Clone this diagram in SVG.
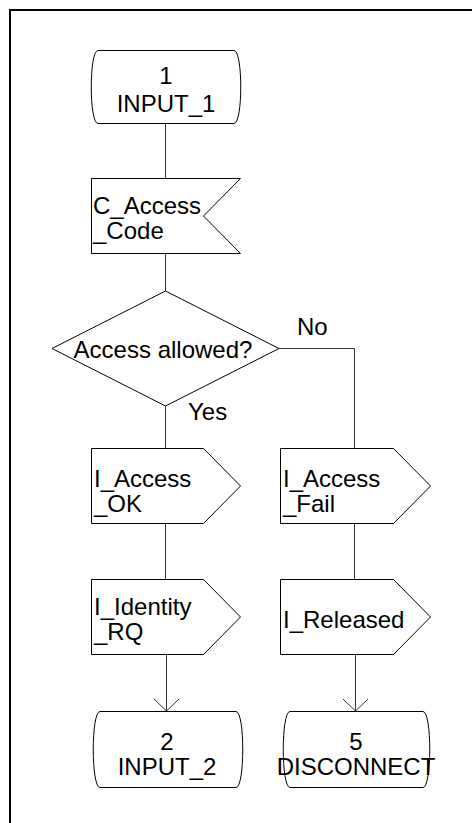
<svg xmlns="http://www.w3.org/2000/svg" width="472" height="823" viewBox="0 0 472 823">
  <style>
    .shape { fill: #ffffff; stroke: #000000; stroke-width: 1; }
    .conn { fill: none; stroke: #333333; stroke-width: 1; }
    .lbl { font-family: "Liberation Sans", Arial, sans-serif; font-size: 24px; fill: #000000; }
    .mid { text-anchor: middle; }
  </style>
  <defs>
    <!-- open V arrowhead, drawn pointing along +x so orient="auto" turns it with the line -->
    <marker id="openArrow" markerWidth="16" markerHeight="28" refX="13" refY="14" orient="auto" markerUnits="userSpaceOnUse" viewBox="0 0 16 28">
      <path d="M1,1.5 L13,14 L1,26.5" fill="none" stroke="#333333" stroke-width="1"/>
    </marker>
  </defs>

  <rect width="472" height="823" fill="#ffffff"/>
  <!-- page frame (top and left edges only are inside the page) -->
  <path d="M10,830 V10 H480" fill="none" stroke="#000000" stroke-width="2"/>

  <!-- connectors -->
  <g id="connectors">
    <path class="conn" d="M165.5,124 V178"/>
    <path class="conn" d="M165.5,254 V291"/>
    <path class="conn" d="M165.5,406 V448"/>
    <path class="conn" d="M279,348.5 H354.5 V448"/>
    <path class="conn" d="M165.5,524 V579"/>
    <path class="conn" d="M354.5,524 V579"/>
    <path class="conn" d="M166.5,655 V711" marker-end="url(#openArrow)"/>
    <path class="conn" d="M355.5,655 V711" marker-end="url(#openArrow)"/>
  </g>

  <!-- state 1 -->
  <g id="state_input_1">
    <path class="shape" d="M98,50.5 H234 C243,50.5 243,123.5 234,123.5 H98 C89,123.5 89,50.5 98,50.5 Z"/>
    <text class="lbl mid" x="166" y="84">1</text>
    <text class="lbl mid" x="166" y="112">INPUT_1</text>
  </g>

  <!-- input signal C_Access_Code -->
  <g id="input_c_access_code">
    <path class="shape" d="M91.5,178.5 H240.5 L203.5,216 L240.5,253.5 H91.5 Z"/>
    <text class="lbl" x="93" y="214">C_Access</text>
    <text class="lbl" x="93" y="239">_Code</text>
  </g>

  <!-- decision -->
  <g id="decision_access_allowed">
    <path class="shape" d="M165.5,291 L279,348.5 L165.5,406 L52,348.5 Z"/>
    <text class="lbl mid" x="163" y="358">Access allowed?</text>
    <text class="lbl" x="297" y="335">No</text>
    <text class="lbl" x="188" y="420">Yes</text>
  </g>

  <!-- output I_Access_OK -->
  <g id="output_i_access_ok">
    <path class="shape" d="M91.5,448.5 H203.5 L240.5,486 L203.5,523.5 H91.5 Z"/>
    <text class="lbl" x="94" y="487">I_Access</text>
    <text class="lbl" x="94" y="512">_OK</text>
  </g>

  <!-- output I_Access_Fail -->
  <g id="output_i_access_fail">
    <path class="shape" d="M280.5,448.5 H393.5 L430.5,486 L393.5,523.5 H280.5 Z"/>
    <text class="lbl" x="283" y="487">I_Access</text>
    <text class="lbl" x="283" y="512">_Fail</text>
  </g>

  <!-- output I_Identity_RQ -->
  <g id="output_i_identity_rq">
    <path class="shape" d="M91.5,579.5 H203.5 L240.5,617 L203.5,654.5 H91.5 Z"/>
    <text class="lbl" x="94" y="615">I_Identity</text>
    <text class="lbl" x="94" y="640">_RQ</text>
  </g>

  <!-- output I_Released -->
  <g id="output_i_released">
    <path class="shape" d="M280.5,579.5 H393.5 L430.5,617 L393.5,654.5 H280.5 Z"/>
    <text class="lbl" x="283" y="628">I_Released</text>
  </g>

  <!-- state 2 -->
  <g id="state_input_2">
    <path class="shape" d="M100,711.5 H236 C245,711.5 245,787.5 236,787.5 H100 C91,787.5 91,711.5 100,711.5 Z"/>
    <text class="lbl mid" x="167" y="750">2</text>
    <text class="lbl mid" x="167" y="775">INPUT_2</text>
  </g>

  <!-- state 5 -->
  <g id="state_disconnect">
    <path class="shape" d="M290,711.5 H423 C432,711.5 432,787.5 423,787.5 H290 C281,787.5 281,711.5 290,711.5 Z"/>
    <text class="lbl mid" x="356" y="750">5</text>
    <text class="lbl mid" x="356" y="775">DISCONNECT</text>
  </g>
</svg>
